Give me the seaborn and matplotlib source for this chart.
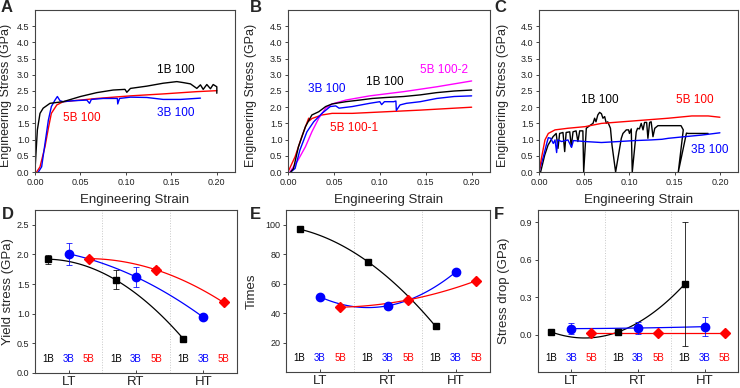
import numpy as np
import pandas as pd
import matplotlib
matplotlib.use('Agg')
import matplotlib.pyplot as plt
import matplotlib.transforms as mtransforms
import seaborn as sns

# ---------------- stress-strain data ----------------
# A
a_1b_strain = [0, 0.0026, 0.0055, 0.009, 0.0165, 0.031, 0.05, 0.068, 0.086, 0.099, 0.101, 0.105,
               0.123, 0.141, 0.156, 0.163, 0.171, 0.178, 0.182, 0.185, 0.189, 0.193, 0.196, 0.2, 0.2]
a_1b_stress = [0.06, 1.3, 1.81, 1.97, 2.12, 2.17, 2.33, 2.45, 2.53, 2.55, 2.46, 2.58,
               2.65, 2.74, 2.79, 2.76, 2.72, 2.58, 2.69, 2.55, 2.7, 2.57, 2.7, 2.63, 2.43]
a_3b_strain = [0.0037, 0.0073, 0.011, 0.0147, 0.018, 0.022, 0.0246, 0.0275, 0.031, 0.042, 0.057,
               0.06, 0.062, 0.075, 0.0906, 0.091, 0.093, 0.105, 0.123, 0.141, 0.16, 0.182]
a_3b_stress = [0, 0.16, 0.88, 1.6, 2.02, 2.22, 2.33, 2.2, 2.17, 2.2, 2.22,
               2.12, 2.24, 2.27, 2.27, 2.1, 2.27, 2.31, 2.3, 2.24, 2.24, 2.28]
a_5b_strain = [0.0018, 0.0055, 0.011, 0.0147, 0.018, 0.024, 0.031, 0.05, 0.068, 0.105, 0.141, 0.178, 0.2]
a_5b_stress = [0, 0.16, 0.78, 1.35, 1.81, 2.07, 2.17, 2.22, 2.27, 2.35, 2.41, 2.48, 2.51]

# B
b_5b2_strain = [0.002, 0.011, 0.019, 0.026, 0.0335, 0.041, 0.048, 0.063, 0.089, 0.126, 0.162, 0.2]
b_5b2_stress = [0, 0.37, 0.78, 1.24, 1.66, 1.97, 2.1, 2.22, 2.35, 2.48, 2.63, 2.81]
b_1b_strain = [0.003, 0.006, 0.0114, 0.019, 0.026, 0.0335, 0.041, 0.048, 0.063, 0.078, 0.092,
               0.107, 0.126, 0.144, 0.162, 0.181, 0.2]
b_1b_stress = [0, 0.11, 0.78, 1.4, 1.76, 1.86, 2.02, 2.1, 2.17, 2.22, 2.27,
               2.3, 2.33, 2.38, 2.45, 2.5, 2.53]
b_3b_strain = [0.003, 0.0077, 0.013, 0.0206, 0.028, 0.037, 0.046, 0.052, 0.0556, 0.07, 0.089, 0.1,
               0.102, 0.105, 0.115, 0.1175, 0.118, 0.122, 0.129, 0.144, 0.162, 0.181, 0.2]
b_3b_stress = [0, 0.11, 0.68, 1.24, 1.55, 1.81, 2.02, 2.04, 1.97, 2.02, 2.12, 2.17,
               2.08, 2.17, 2.17, 2.19, 1.9, 2.07, 2.12, 2.17, 2.27, 2.33, 2.35]
b_5b1_strain = [0, 0.0077, 0.015, 0.0225, 0.0232, 0.026, 0.03, 0.037, 0.048, 0.07, 0.107, 0.144, 0.2]
b_5b1_stress = [0, 0.47, 1.09, 1.66, 1.58, 1.65, 1.69, 1.76, 1.81, 1.81, 1.86, 1.91, 2.0]

# C
c_5b_strain = [0, 0.003, 0.0066, 0.0103, 0.0177, 0.032, 0.051, 0.069, 0.106, 0.143, 0.169, 0.187, 0.2]
c_5b_stress = [0, 0.47, 0.99, 1.19, 1.3, 1.35, 1.4, 1.5, 1.58, 1.66, 1.73, 1.73, 1.69]
c_3b_strain = [0, 0.0048, 0.0085, 0.0103, 0.013, 0.0158, 0.0177, 0.0195, 0.0206, 0.025, 0.032, 0.036,
               0.038, 0.051, 0.069, 0.088, 0.106, 0.124, 0.136, 0.143, 0.161, 0.18, 0.2]
c_3b_stress = [0, 0.47, 0.88, 1.06, 1.04, 0.88, 0.99, 0.6, 0.99, 0.94, 0.99, 0.76,
               0.97, 0.94, 0.91, 0.94, 0.97, 0.99, 1.01, 1.04, 1.09, 1.14, 1.21]
c_1b_strain = [0.0018, 0.0063, 0.01, 0.0155, 0.019, 0.021, 0.0228, 0.0265, 0.0284, 0.030, 0.034,
               0.0357, 0.0376, 0.041, 0.043, 0.045, 0.0485, 0.0494, 0.0523, 0.056, 0.0597, 0.0615,
               0.063, 0.065, 0.067, 0.069, 0.0707, 0.0726, 0.0744, 0.076, 0.079, 0.0807, 0.0847,
               0.091, 0.0928, 0.0965, 0.099, 0.1, 0.102, 0.1031, 0.1075, 0.109, 0.111, 0.113,
               0.115, 0.1167, 0.119, 0.1204, 0.1223, 0.124, 0.126, 0.128, 0.1315, 0.157, 0.1595,
               0.154, 0.163, 0.165, 0.187]
c_1b_stress = [0, 0.52, 0.83, 1.09, 1.19, 0.73, 1.19, 1.22, 0.63, 1.22, 1.24,
               0.78, 1.24, 1.27, 0.94, 1.27, 1.27, 0, 1.35, 1.43, 1.5, 1.66,
               1.55, 1.76, 1.84, 1.8, 1.66, 1.71, 1.5, 1.55, 1.35, 0.83, 0,
               1.04, 1.19, 1.3, 1.3, 1.19, 1.33, 0, 1.24, 1.35, 1.33, 1.5,
               1.3, 1.53, 1.53, 1.04, 1.53, 1.55, 1.09, 1.35, 1.43, 1.43, 1.3,
               0, 1.2, 1.19, 1.19]

# ---------------- summary data ----------------
temps = ['LT', 'RT', 'HT']
groups = ['1B', '3B', '5B']
yield_1b = [1.92, 1.57, 0.58]
yield_1b_err = [0.075, 0.16, 0]
yield_3b = [2.01, 1.62, 0.94]
yield_3b_err = [0.18, 0.175, 0.02]
yield_5b = [1.93, 1.74, 1.19]
yield_5b_err = [0.02, 0.04, 0.02]
times_1b = [97, 75, 31]
times_3b = [51, 45, 68]
times_5b = [44, 49, 62]
drop_1b = [0.021, 0.021, 0.405]
drop_1b_err = [0.01, 0.01, 0.5]
drop_3b = [0.048, 0.053, 0.064]
drop_3b_err = [0.045, 0.05, 0.075]
drop_5b = [0.013, 0.013, 0.013]
drop_5b_err = [0.005, 0.005, 0.005]

BLACK, BLUE, RED, MAG = '#000000', '#0000ff', '#ff0000', '#ff00ff'
FRAME = '#444444'

sns.set_style('ticks')
plt.rcParams['font.family'] = ['Liberation Sans', 'DejaVu Sans']
plt.rcParams['axes.edgecolor'] = FRAME
plt.rcParams['axes.linewidth'] = 0.8
plt.rcParams['xtick.color'] = FRAME
plt.rcParams['ytick.color'] = FRAME
plt.rcParams['xtick.labelcolor'] = '#222222'
plt.rcParams['ytick.labelcolor'] = '#222222'

fig = plt.figure(figsize=(7.4, 3.88), dpi=100)
W, H = 740, 388


def add_ax(left, right, top, bottom):
    return fig.add_axes([left / W, (H - bottom) / H, (right - left) / W, (bottom - top) / H])


axA = add_ax(35, 235, 10, 172)
axB = add_ax(288, 490, 10, 172)
axC = add_ax(539, 738, 10, 172)
axD = add_ax(35, 237, 210, 373)
axE = add_ax(286, 490, 210, 372)
axF = add_ax(538, 738, 210, 372)


def curve(ax, x, y, color):
    sns.lineplot(x=x, y=y, ax=ax, color=color, lw=1.0, sort=False, estimator=None)


# top row
curve(axA, a_5b_strain, a_5b_stress, RED)
curve(axA, a_3b_strain, a_3b_stress, BLUE)
curve(axA, a_1b_strain, a_1b_stress, BLACK)
axA.text(0.155, 3.15, '1B 100', color=BLACK, fontsize=8.5, ha='center', va='center')
axA.text(0.051, 1.66, '5B 100', color=RED, fontsize=8.5, ha='center', va='center')
axA.text(0.155, 1.81, '3B 100', color=BLUE, fontsize=8.5, ha='center', va='center')

curve(axB, b_5b1_strain, b_5b1_stress, RED)
curve(axB, b_5b2_strain, b_5b2_stress, MAG)
curve(axB, b_3b_strain, b_3b_stress, BLUE)
curve(axB, b_1b_strain, b_1b_stress, BLACK)
axB.text(0.17, 3.15, '5B 100-2', color=MAG, fontsize=8.5, ha='center', va='center')
axB.text(0.105, 2.79, '1B 100', color=BLACK, fontsize=8.5, ha='center', va='center')
axB.text(0.042, 2.55, '3B 100', color=BLUE, fontsize=8.5, ha='center', va='center')
axB.text(0.072, 1.35, '5B 100-1', color=RED, fontsize=8.5, ha='center', va='center')

curve(axC, c_1b_strain, c_1b_stress, BLACK)
curve(axC, c_3b_strain, c_3b_stress, BLUE)
curve(axC, c_5b_strain, c_5b_stress, RED)
axC.text(0.067, 2.22, '1B 100', color=BLACK, fontsize=8.5, ha='center', va='center')
axC.text(0.172, 2.22, '5B 100', color=RED, fontsize=8.5, ha='center', va='center')
axC.text(0.189, 0.69, '3B 100', color=BLUE, fontsize=8.5, ha='center', va='center')

for ax, ylx in [(axA, -0.115), (axB, -0.155), (axC, -0.15)]:
    ax.set_xlim(0, 0.22)
    ax.set_ylim(0, 5.0)
    ax.set_xticks(np.arange(0, 0.201, 0.05))
    ax.set_xticklabels([f'{v:.2f}' for v in np.arange(0, 0.201, 0.05)])
    ax.set_yticks(np.arange(0, 4.51, 0.5))
    ax.set_yticklabels([f'{v:.1f}' for v in np.arange(0, 4.51, 0.5)])
    ax.tick_params(labelsize=6.5, length=2.5, width=0.7, pad=1.5)
    ax.set_xlabel('Engineering Strain', fontsize=9.5, labelpad=1)
    ax.set_ylabel('Engineering Stress (GPa)', fontsize=9)
    ax.yaxis.set_label_coords(ylx, 0.47)
    ax.xaxis.set_label_coords(0.5, -0.135)

# bottom row
offsets = [-0.3, 0.0, 0.3]
styles = [(BLACK, 's', 5.0), (BLUE, 'o', 6.0), (RED, 'D', 5.5)]
pos = np.arange(1, len(temps) + 1)


def summary(ax, series, errs):
    for (color, marker, ms), off, vals, err in zip(styles, offsets, series, errs):
        xs = pos + off
        coef = np.polyfit(xs, vals, 2)
        xf = np.linspace(xs[0], xs[-1], 60)
        sns.lineplot(x=xf, y=np.polyval(coef, xf), ax=ax, color=color, lw=0.9)
        if err is not None:
            ax.errorbar(xs, vals, yerr=err, fmt='none', ecolor=color, elinewidth=0.7,
                        capsize=2.2, capthick=0.7, alpha=0.8, zorder=3)
        ax.plot(xs, vals, ls='none', marker=marker, ms=ms, color=color, mec=color, zorder=4)
    trans = mtransforms.blended_transform_factory(ax.transData, ax.transAxes)
    for p in pos:
        for (color, _, _), off, g in zip(styles, offsets, groups):
            ax.text(p + off, 0.085, g, color=color, fontsize=7, ha='center', va='center',
                    transform=trans)
    for b in [1.5, 2.5]:
        ax.axvline(b, color='#c8c8c8', ls=':', lw=0.7, zorder=0)
    ax.set_xlim(0.5, 3.5)
    ax.set_xticks(pos)
    ax.set_xticklabels(temps, fontsize=9.5)
    ax.tick_params(axis='x', direction='in', length=2.5, width=0.7, pad=2)
    ax.tick_params(axis='y', labelsize=6.5, length=2.5, width=0.7, pad=1.5)


summary(axD, [yield_1b, yield_3b, yield_5b], [yield_1b_err, yield_3b_err, yield_5b_err])
axD.set_ylim(0, 2.75)
axD.set_yticks(np.arange(0, 2.51, 0.5))
axD.set_yticklabels([f'{v:.1f}' for v in np.arange(0, 2.51, 0.5)])
axD.set_ylabel('Yield stress (GPa)', fontsize=9.5)
axD.yaxis.set_label_coords(-0.105, 0.5)

summary(axE, [times_1b, times_3b, times_5b], [None, None, None])
axE.set_ylim(0, 110)
axE.set_yticks([20, 40, 60, 80, 100])
axE.set_ylabel('Times', fontsize=9.5)
axE.yaxis.set_label_coords(-0.137, 0.5)

summary(axF, [drop_1b, drop_3b, drop_5b], [drop_1b_err, drop_3b_err, drop_5b_err])
axF.set_ylim(-0.3, 1.0)
axF.set_yticks([0.0, 0.3, 0.6, 0.9])
axF.set_yticklabels(['0.0', '0.3', '0.6', '0.9'])
axF.set_ylabel('Stress drop (GPa)', fontsize=9.5)
axF.yaxis.set_label_coords(-0.14, 0.5)

for ax in [axA, axB, axC, axD, axE, axF]:
    for s in ax.spines.values():
        s.set_visible(True)

for letter, x, y in [('A', 1, 0), ('B', 250, 0), ('C', 494, 0),
                     ('D', 2, 207), ('E', 250, 207), ('F', 494, 207)]:
    fig.text(x / W, 1 - y / H, letter, fontsize=12, fontweight='bold', ha='left', va='top')

fig.savefig('out.png', dpi=100)
